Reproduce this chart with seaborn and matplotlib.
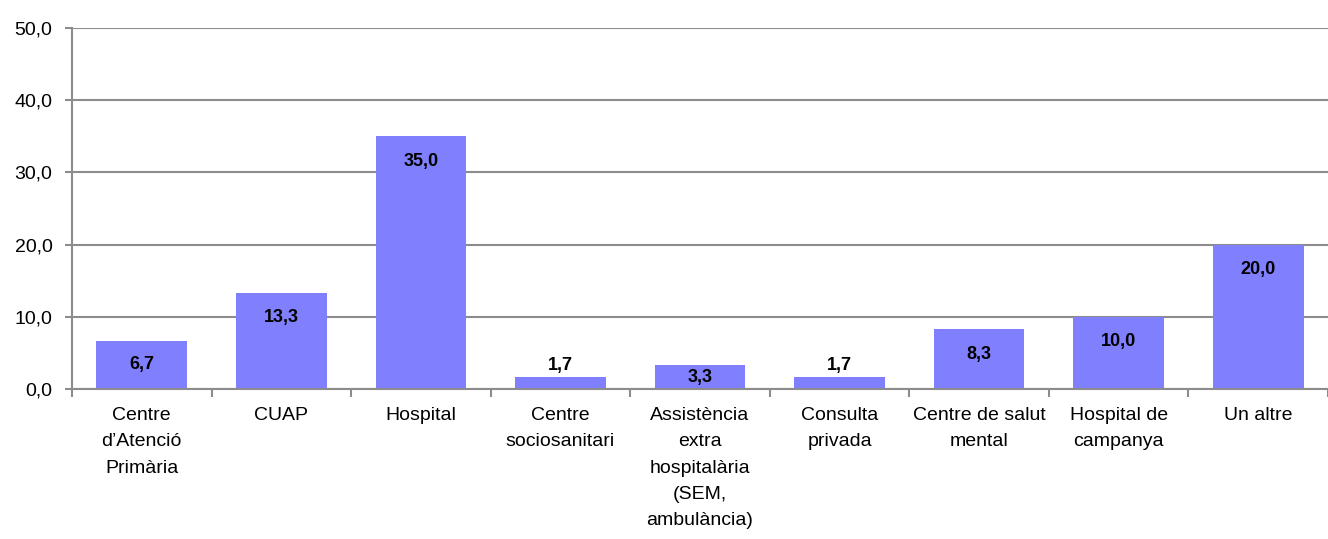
import matplotlib
matplotlib.use("Agg")
import matplotlib.pyplot as plt
import seaborn as sns
import numpy as np
import pandas as pd
from matplotlib.ticker import FuncFormatter, FixedLocator

sns.set_style("white")
plt.rcParams['font.family'] = ['Liberation Sans Narrow', 'Liberation Sans', 'DejaVu Sans']

categories = [
    "Centre\nd\u2019Atenci\u00f3\nPrim\u00e0ria",
    "CUAP",
    "Hospital",
    "Centre\nsociosanitari",
    "Assist\u00e8ncia\nextra\nhospital\u00e0ria\n(SEM,\nambul\u00e0ncia)",
    "Consulta\nprivada",
    "Centre de salut\nmental",
    "Hospital de\ncampanya",
    "Un altre",
]
values = [6.7, 13.3, 35.0, 1.7, 3.3, 1.7, 8.3, 10.0, 20.0]

df = pd.DataFrame({"cat": categories, "val": values})

fig = plt.figure(figsize=(13.28, 5.39), dpi=100)
ax = fig.add_axes([72 / 1328, 1 - 389 / 539, 1 - 72 / 1328, (389 - 28) / 539])

sns.barplot(data=df, x="cat", y="val", color="#8080ff", saturation=1,
            width=0.65, ax=ax, edgecolor="none")

ax.set_ylim(0, 50)
ax.set_xlim(-0.5, -0.5 + (1328 - 72) / 140.7)
ax.set_xlabel("")
ax.set_ylabel("")

grid_c = "#8c8c8c"
ax.yaxis.set_major_locator(FixedLocator([0, 10, 20, 30, 40, 50]))
ax.yaxis.set_major_formatter(FuncFormatter(lambda v, p: f"{v:.1f}".replace(".", ",")))
ax.grid(axis="y", color=grid_c, linewidth=1.5)
ax.set_axisbelow(True)

for s in ["top", "right"]:
    ax.spines[s].set_visible(False)
for s in ["left", "bottom"]:
    ax.spines[s].set_color(grid_c)
    ax.spines[s].set_linewidth(1.5)

ax.tick_params(axis="y", which="major", direction="out", length=5, width=1.5,
               color=grid_c, pad=9, labelsize=14, labelcolor="black", left=True)
ax.set_xticks(range(len(categories)))
ax.set_xticklabels(categories, linespacing=1.72, multialignment="center")
ax.tick_params(axis="x", which="major", length=0, pad=13, labelsize=14,
               labelcolor="black")
ax.set_xticks(np.arange(-0.5, len(categories), 1.0), minor=True)
ax.tick_params(axis="x", which="minor", direction="out", length=6, width=1.5,
               color=grid_c, bottom=True)

# value labels: inside near top, above for very short bars
px_per_unit = (389 - 28) / 50.0
off = 25 / px_per_unit
for i, v in enumerate(values):
    txt = f"{v:.1f}".replace(".", ",")
    if v < 2.5:
        y = v + 11 / px_per_unit
    elif v < 2 * off:
        y = v / 2
    else:
        y = v - off
    ax.text(i, y, txt, ha="center", va="center", fontsize=13,
            fontweight="bold", color="black")

fig.savefig("out.png", dpi=100)
